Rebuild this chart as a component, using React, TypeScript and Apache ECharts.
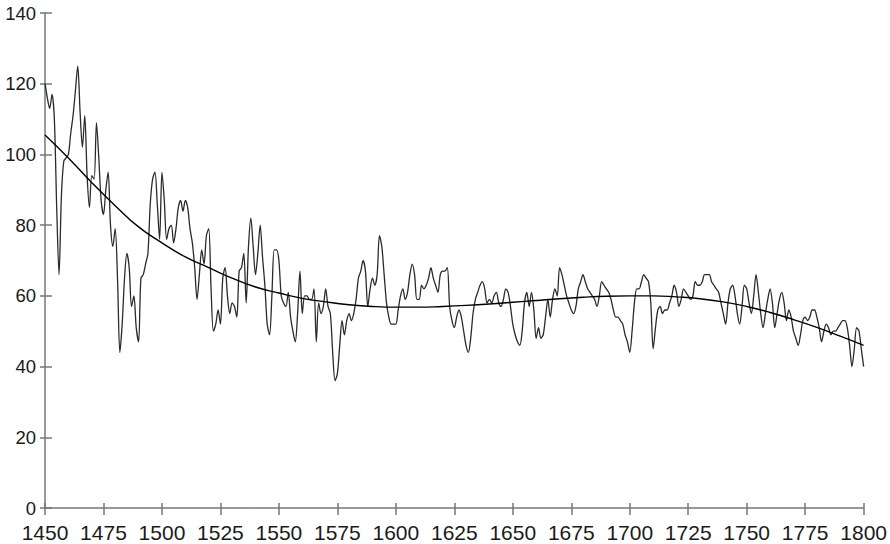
import React, { useEffect, useRef } from "react";
import * as echarts from "echarts";

const START_YEAR = 1450;

// annual values 1450..1800, one row per decade
const values: number[] = [
  120, 116, 113, 117, 110, 85, 66, 88, 98, 99,
  100, 106, 111, 118, 125, 112, 102, 111, 94, 85,
  94, 93, 109, 99, 87, 83, 90, 95, 80, 74,
  79, 65, 44, 52, 65, 72, 68, 57, 60, 51,
  47, 65, 66, 69, 72, 86, 93, 95, 86, 76,
  95, 87, 76, 79, 80, 75, 79, 85, 87, 84,
  87, 85, 79, 75, 68, 59, 66, 73, 69, 77,
  79, 62, 50, 52, 56, 52, 65, 68, 60, 55,
  58, 57, 54, 67, 68, 72, 58, 74, 82, 74,
  66, 72, 80, 71, 63, 52, 49, 60, 73, 73,
  70, 60, 58, 57, 61, 54, 50, 47, 55, 67,
  55, 60, 60, 59, 59, 62, 47, 58, 55, 57,
  62, 57, 55, 44, 36, 38, 46, 53, 49, 53,
  55, 53, 55, 59, 65, 67, 70, 67, 57, 62,
  65, 63, 66, 77, 74, 66, 58, 54, 52, 52,
  52, 56, 60, 62, 59, 61, 66, 69, 66, 59,
  59, 63, 62, 63, 65, 68, 65, 63, 61, 66,
  67, 67, 68, 57, 53, 51, 54, 56, 54, 50,
  46, 44, 48, 55, 59, 61, 63, 64, 62, 58,
  59, 58, 60, 61, 58, 57, 59, 62, 61, 57,
  52, 49, 47, 46, 50, 58, 61, 57, 61, 56,
  48, 51, 48, 49, 54, 59, 54, 59, 62, 60,
  68, 66, 63, 60, 58, 56, 55, 57, 62, 64,
  66, 64, 62, 61, 60, 59, 57, 60, 64, 63,
  62, 61, 59, 56, 54, 54, 53, 52, 49, 47,
  44, 50, 58, 62, 62, 64, 66, 65, 64, 58,
  45, 51, 56, 57, 55, 56, 56, 58, 60, 63,
  61, 57, 59, 62, 61, 60, 59, 60, 64, 63,
  63, 64, 66, 66, 66, 64, 63, 62, 61, 58,
  55, 52, 58, 62, 63, 60, 55, 52, 57, 63,
  62, 58, 55, 60, 66, 61, 55, 51, 55, 59,
  62, 58, 51, 55, 59, 61, 58, 53, 56, 54,
  50, 48, 46, 49, 53, 54, 53, 54, 56, 56,
  54, 51, 47, 50, 52, 51, 49, 50, 50, 51,
  52, 53, 53, 51, 46, 40, 45, 51, 50, 45,
  40,
];

const trendYears: number[] = [
  1450, 1460, 1470, 1480, 1490, 1500, 1510, 1520, 1530, 1540, 1550, 1560,
  1570, 1580, 1590, 1600, 1610, 1620, 1630, 1640, 1650, 1660, 1670, 1680,
  1690, 1700, 1710, 1720, 1730, 1740, 1750, 1760, 1770, 1780, 1790, 1800,
];
const trendValues: number[] = [
  105.5, 99, 92, 85.5, 79.5, 75, 71, 68, 65, 62.5, 60.8, 59.3,
  58.3, 57.5, 57, 56.8, 56.8, 57, 57.3, 57.7, 58.2, 58.7, 59.2, 59.6,
  59.9, 60, 60, 59.7, 59.2, 58.3, 57, 55.3, 53.3, 51.1, 48.6, 46,
];

const xTicks = { min: 1450, max: 1800, interval: 25 };
const yTicks = { min: 0, max: 140, interval: 20 };

const FONT = "'Liberation Sans', Arial, Helvetica, sans-serif";
const AXIS_COLOR = "#777777";

export default function App() {
  const ref = useRef<HTMLDivElement>(null);

  useEffect(() => {
    document.body.style.margin = "0";
    if (!ref.current) return;
    const chart = echarts.init(ref.current, undefined, { renderer: "svg" });
    const seriesData = values.map((v, i) => [START_YEAR + i, v]);
    const trendData = trendYears.map((y, i) => [y, trendValues[i]]);

    const baseX = {
      type: "value" as const,
      min: xTicks.min,
      max: xTicks.max,
      interval: xTicks.interval,
      splitLine: { show: false },
    };
    const baseY = {
      type: "value" as const,
      min: yTicks.min,
      max: yTicks.max,
      interval: yTicks.interval,
      splitLine: { show: false },
    };

    chart.setOption({
      animation: false,
      backgroundColor: "#ffffff",
      grid: { left: 45, right: 24, top: 13, bottom: 36, containLabel: false },
      xAxis: [
        {
          ...baseX,
          position: "bottom",
          axisLine: { show: true, lineStyle: { color: AXIS_COLOR, width: 1.5 } },
          axisTick: { show: true, inside: false, length: 7, lineStyle: { color: AXIS_COLOR, width: 1.5 } },
          axisLabel: {
            show: true,
            color: "#1a1a1a",
            fontSize: 21,
            fontFamily: FONT,
            margin: 14,
            formatter: (v: number) => String(v),
          },
        },
        {
          ...baseX,
          position: "bottom",
          axisLine: { show: false },
          axisTick: { show: true, inside: true, length: 5, lineStyle: { color: AXIS_COLOR, width: 1.5 } },
          axisLabel: { show: false },
        },
      ],
      yAxis: [
        {
          ...baseY,
          position: "left",
          axisLine: { show: true, lineStyle: { color: AXIS_COLOR, width: 1.5 } },
          axisTick: { show: true, inside: false, length: 5, lineStyle: { color: AXIS_COLOR, width: 1.5 } },
          axisLabel: {
            show: true,
            color: "#1a1a1a",
            fontSize: 18.5,
            fontFamily: FONT,
            margin: 9,
          },
        },
        {
          ...baseY,
          position: "left",
          axisLine: { show: false },
          axisTick: { show: true, inside: true, length: 7, lineStyle: { color: AXIS_COLOR, width: 1.5 } },
          axisLabel: { show: false },
        },
      ],
      series: [
        {
          type: "line",
          data: seriesData,
          showSymbol: false,
          symbol: "none",
          smooth: 0.3,
          lineStyle: { color: "#2a2a2a", width: 1.3 },
          xAxisIndex: 0,
          yAxisIndex: 0,
          z: 2,
        },
        {
          type: "line",
          data: trendData,
          showSymbol: false,
          symbol: "none",
          smooth: true,
          lineStyle: { color: "#000000", width: 1.4 },
          xAxisIndex: 0,
          yAxisIndex: 0,
          z: 3,
        },
      ],
    });
    return () => chart.dispose();
  }, []);

  return (
    <div
      ref={ref}
      style={{ position: "absolute", left: 0, top: 0, width: 890, height: 544 }}
    />
  );
}
